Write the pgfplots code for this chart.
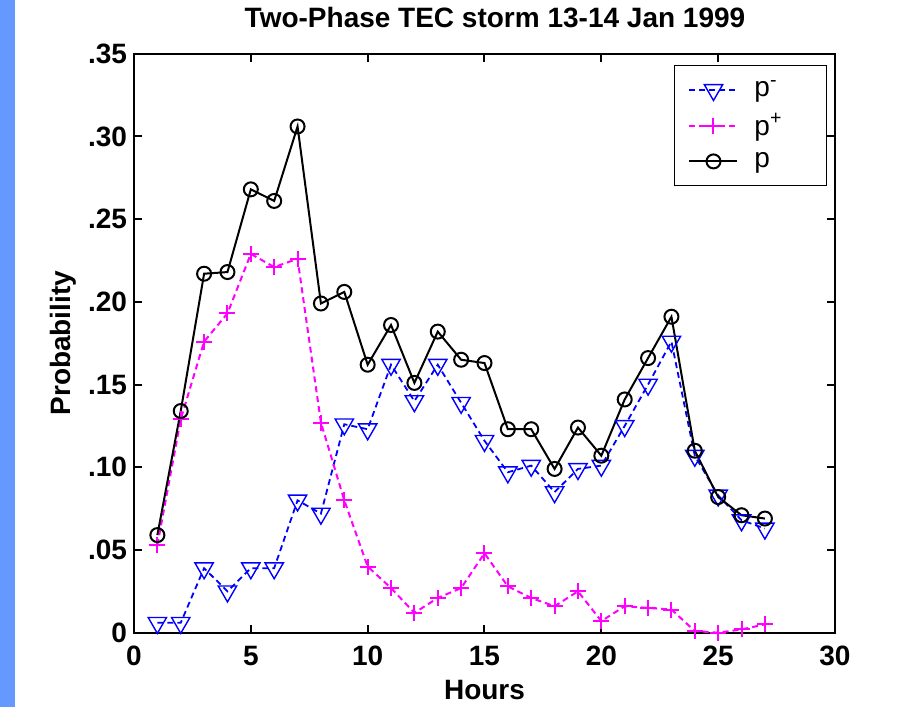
\documentclass[border=0pt]{standalone}
\usepackage{pgfplots}
\pgfplotsset{compat=1.18}
\usepackage{fontspec}
\setmainfont{Liberation Sans}
\definecolor{slideblue}{RGB}{102,153,255}
\definecolor{mblue}{RGB}{0,0,255}
\definecolor{mmag}{RGB}{255,0,255}

\begin{document}
\begin{tikzpicture}
% page is 922x707 px at 0.5pt per px
\useasboundingbox (0,0) rectangle (461pt,353.5pt);
\fill[white] (0,0) rectangle (461pt,353.5pt);
\fill[slideblue] (0,0) rectangle (7.5pt,353.5pt);

\begin{axis}[
    at={(67pt,37.15pt)}, anchor=south west,
    scale only axis,
    width=350.5pt, height=289.5pt,
    xmin=0, xmax=30, ymin=0, ymax=0.35,
    xtick={0,5,...,30},
    ytick={0,0.05,0.10,0.15,0.20,0.25,0.30,0.35},
    yticklabels={0,.05,.10,.15,.20,.25,.30,.35},
    /pgf/number format/assume math mode=true,
    tick label style={font=\fontsize{14}{15}\selectfont\bfseries},
    xticklabel style={yshift=-3pt},
    axis line style={line width=1pt},
    major tick length=4pt,
    tick style={line width=1pt, black},
    xlabel={Hours}, ylabel={Probability},
    label style={font=\fontsize{14}{15}\selectfont\bfseries},
    xlabel style={at={(rel axis cs:0.5,0)}, anchor=center, yshift=-28.5pt},
    ylabel style={yshift=-1pt},
    legend style={at={(rel axis cs:1,1)}, anchor=north east,
        xshift=-4pt, yshift=-5.5pt, draw=black, line width=0.5pt,
        font=\fontsize{14}{15}\selectfont, row sep=3pt,
        inner xsep=7pt, inner ysep=5.5pt},
    legend cell align=left,
    legend image code/.code={\draw[mark repeat=2,mark phase=2,#1]
        plot coordinates {(0pt,0pt) (12pt,0pt) (24pt,0pt)};},
]
\addplot[mblue, line width=0.9pt, dash pattern=on 3pt off 2pt,
    mark=triangle, mark size=5.3pt,
    mark options={solid, rotate=180, line width=0.7pt}] coordinates {
(1,0.006) (2,0.006) (3,0.039) (4,0.025) (5,0.039) (6,0.039) (7,0.080)
(8,0.072) (9,0.126) (10,0.123) (11,0.162) (12,0.140) (13,0.162) (14,0.139)
(15,0.116) (16,0.097) (17,0.101) (18,0.085) (19,0.099) (20,0.101) (21,0.125)
(22,0.150) (23,0.176) (24,0.107) (25,0.083) (26,0.068) (27,0.063)
};
\addlegendentry{\makebox[33pt][l]{\hspace{6pt}p\textsuperscript{-}}}

\addplot[mmag, line width=1pt, dash pattern=on 3pt off 2pt,
    mark=+, mark size=4pt, mark options={solid, line width=1pt}] coordinates {
(1,0.053) (2,0.129) (3,0.176) (4,0.193) (5,0.229) (6,0.221) (7,0.226)
(8,0.127) (9,0.080) (10,0.040) (11,0.027) (12,0.012) (13,0.021) (14,0.027)
(15,0.048) (16,0.028) (17,0.021) (18,0.016) (19,0.025) (20,0.007) (21,0.016)
(22,0.015) (23,0.014) (24,0.001) (25,0.000) (26,0.002) (27,0.005)
};
\addlegendentry{\makebox[33pt][l]{\hspace{6pt}p\textsuperscript{+}}}

\addplot[black, line width=1pt, mark=o, mark size=3.5pt,
    mark options={fill=white, line width=1pt}] coordinates {
(1,0.059) (2,0.134) (3,0.217) (4,0.218) (5,0.268) (6,0.261) (7,0.306)
(8,0.199) (9,0.206) (10,0.162) (11,0.186) (12,0.151) (13,0.182) (14,0.165)
(15,0.163) (16,0.123) (17,0.123) (18,0.099) (19,0.124) (20,0.107) (21,0.141)
(22,0.166) (23,0.191) (24,0.110) (25,0.082) (26,0.071) (27,0.069)
};
\addlegendentry{\makebox[33pt][l]{\hspace{6pt}p}}
\end{axis}

\node[font=\fontsize{14}{15}\selectfont\bfseries] at (247.5pt,344.5pt)
    {Two-Phase TEC storm 13-14 Jan 1999};
\end{tikzpicture}
\end{document}
